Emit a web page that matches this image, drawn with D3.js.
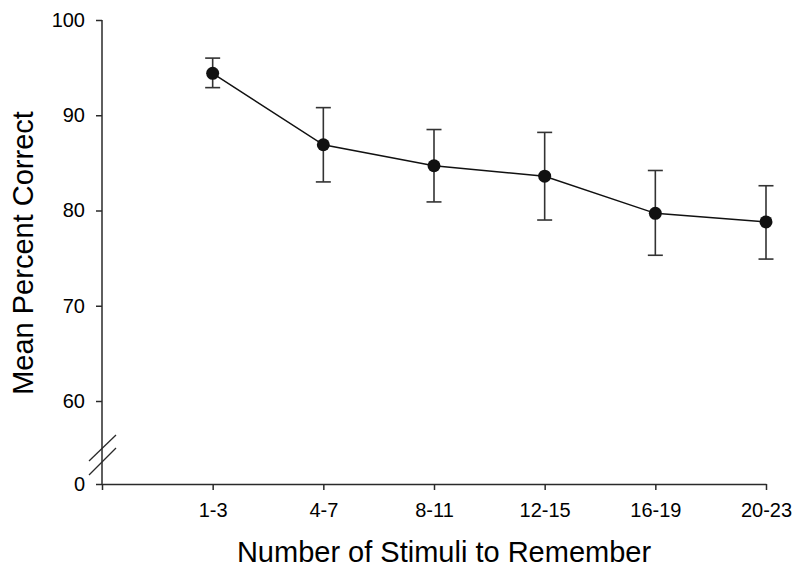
<!DOCTYPE html>
<html>
<head>
<meta charset="utf-8">
<script src="https://cdn.jsdelivr.net/npm/d3@7"></script>
<style>
  html, body { margin: 0; padding: 0; background: #fff; }
  svg { display: block; font-family: "Liberation Sans", Arial, sans-serif; }
</style>
</head>
<body>
<svg id="chart" width="800" height="575"></svg>
<script>
const categories = ["1-3", "4-7", "8-11", "12-15", "16-19", "20-23"];
const meanValues = [94.4, 86.9, 84.7, 83.6, 79.7, 78.8];
const errorUpper = [96.0, 90.8, 88.5, 88.2, 84.2, 82.6];
const errorLower = [92.9, 83.0, 80.9, 79.0, 75.3, 74.9];
const upperTicks = [60, 70, 80, 90, 100];
const lowerTicks = [0];

const svg = d3.select("#chart");
const axisColor = "#2a2a2a";
const axisX = 102;

// scales
const x = d3.scaleLinear().domain([0, categories.length]).range([axisX, 766]);
const yUpper = d3.scaleLinear().domain([60, 100]).range([401, 20]);
const yLower = d3.scaleLinear().domain([0, 60]).range([484, 401]);

// y axis (upper part)
const gy = svg.append("g").attr("transform", `translate(${axisX},0)`)
  .call(d3.axisLeft(yUpper).tickValues(upperTicks).tickSize(6).tickSizeOuter(0).tickPadding(11));
// y axis (lower part: 0)
const gy0 = svg.append("g").attr("transform", `translate(${axisX},0)`)
  .call(d3.axisLeft(yLower).tickValues(lowerTicks).tickSize(6).tickSizeOuter(0).tickPadding(11));
gy0.select(".domain").remove();
gy.select(".domain").remove();
svg.append("line").attr("x1", axisX).attr("x2", axisX).attr("y1", yUpper(100)).attr("y2", yLower(0))
  .attr("stroke", axisColor).attr("stroke-width", 1.5);

// x axis
const gx = svg.append("g").attr("transform", `translate(0,${yLower(0)})`)
  .call(d3.axisBottom(x).tickValues(d3.range(0, categories.length + 1))
    .tickFormat(i => i === 0 ? "" : categories[i - 1])
    .tickSize(6).tickSizeOuter(0).tickPadding(13));

[gy, gy0, gx].forEach(g => {
  g.selectAll(".domain").attr("stroke", axisColor).attr("stroke-width", 1.5);
  g.selectAll(".tick line").attr("stroke", axisColor).attr("stroke-width", 1.5);
  g.selectAll(".tick text").attr("fill", "#000").style("font-size", "20px")
    .style("font-family", "'Liberation Sans', Arial, sans-serif");
});

// axis break marks
const breakMarks = [[89, 461, 116, 435], [89, 475, 116, 448]];
svg.selectAll("line.brk").data(breakMarks).enter().append("line").attr("class", "brk")
  .attr("x1", d => d[0]).attr("y1", d => d[1]).attr("x2", d => d[2]).attr("y2", d => d[3])
  .attr("stroke", axisColor).attr("stroke-width", 1.3);

// error bars
const idx = d3.range(categories.length);
const capW = 7.5;
const eb = svg.append("g").attr("stroke", "#333").attr("stroke-width", 1.6);
eb.selectAll("line.v").data(idx).enter().append("line")
  .attr("x1", i => x(i + 1)).attr("x2", i => x(i + 1))
  .attr("y1", i => yUpper(errorUpper[i])).attr("y2", i => yUpper(errorLower[i]));
eb.selectAll("line.t").data(idx).enter().append("line")
  .attr("x1", i => x(i + 1) - capW).attr("x2", i => x(i + 1) + capW)
  .attr("y1", i => yUpper(errorUpper[i])).attr("y2", i => yUpper(errorUpper[i]));
eb.selectAll("line.b").data(idx).enter().append("line")
  .attr("x1", i => x(i + 1) - capW).attr("x2", i => x(i + 1) + capW)
  .attr("y1", i => yUpper(errorLower[i])).attr("y2", i => yUpper(errorLower[i]));

// line
svg.append("path").datum(idx)
  .attr("d", d3.line().x(i => x(i + 1)).y(i => yUpper(meanValues[i])))
  .attr("fill", "none").attr("stroke", "#111").attr("stroke-width", 1.5);

// markers
svg.selectAll("circle.pt").data(idx).enter().append("circle").attr("class", "pt")
  .attr("cx", i => x(i + 1)).attr("cy", i => yUpper(meanValues[i])).attr("r", 6.5)
  .attr("fill", "#111");

// titles
svg.append("text").attr("x", 444).attr("y", 562).attr("text-anchor", "middle")
  .style("font-size", "29px").attr("fill", "#000").text("Number of Stimuli to Remember");
svg.append("text").attr("transform", "translate(33,253) rotate(-90)").attr("text-anchor", "middle")
  .style("font-size", "29px").attr("fill", "#000").text("Mean Percent Correct");
</script>
</body>
</html>
